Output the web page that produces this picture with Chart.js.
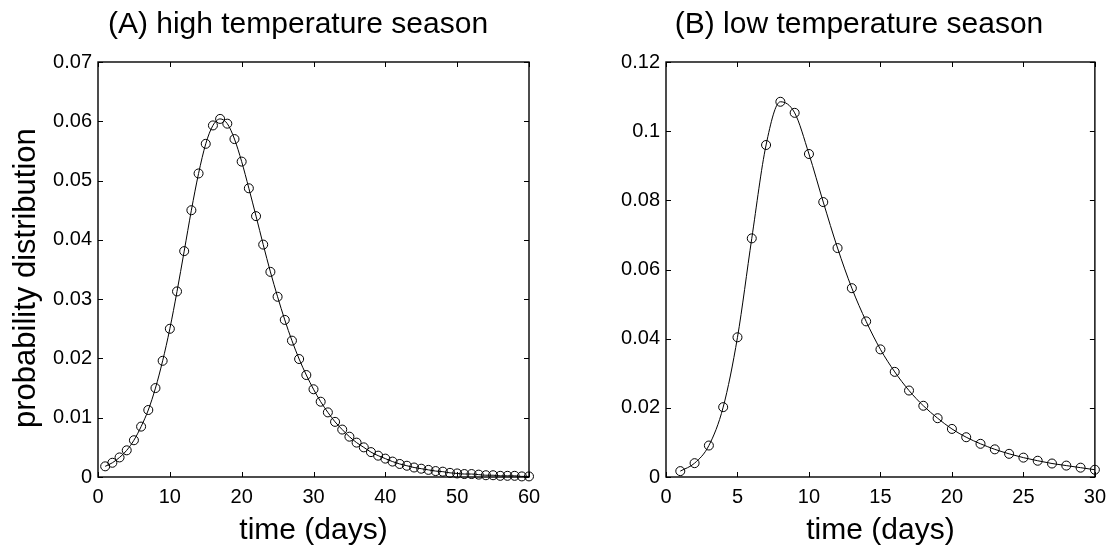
<!DOCTYPE html>
<html>
<head>
<meta charset="utf-8">
<script src="https://cdn.jsdelivr.net/npm/chart.js@4.4.0/dist/chart.umd.min.js"></script>
<style>
  html, body { margin: 0; padding: 0; background: #fff; }
  .panel { position: absolute; top: 0; width: 557px; height: 550px; }
  #panelA { left: 0; }
  #panelB { left: 557px; }
</style>
</head>
<body>
<div class="panel" id="panelA"><canvas id="chartA"></canvas></div>
<div class="panel" id="panelB"><canvas id="chartB"></canvas></div>
<script>
// ---- data: (A) high temperature season ----
const daysA = [1,2,3,4,5,6,7,8,9,10,11,12,13,14,15,16,17,18,19,20,
  21,22,23,24,25,26,27,28,29,30,31,32,33,34,35,36,37,38,39,40,
  41,42,43,44,45,46,47,48,49,50,51,52,53,54,55,56,57,58,59,60];
const probA = [0.0018,0.0024,0.0033,0.0045,0.0062,0.0085,0.0113,0.0150,0.0196,0.0250,
  0.0313,0.0381,0.0450,0.0512,0.0562,0.0593,0.0604,0.0596,0.0570,0.0532,
  0.0487,0.0440,0.0392,0.0346,0.0304,0.0265,0.0230,0.0199,0.0172,0.0148,
  0.0127,0.0109,0.0093,0.0080,0.0068,0.0058,0.0050,0.0042,0.0036,0.0031,
  0.0026,0.0022,0.0019,0.0016,0.0014,0.0012,0.0010,0.0009,0.0007,0.0006,
  0.0005,0.0005,0.0004,0.0003,0.0003,0.0002,0.0002,0.0002,0.0001,0.0001];
const xTicksA = [0,10,20,30,40,50,60];
const yTicksA = [0,0.01,0.02,0.03,0.04,0.05,0.06,0.07];
const yLabelsA = ['0','0.01','0.02','0.03','0.04','0.05','0.06','0.07'];

// ---- data: (B) low temperature season ----
const daysB = [1,2,3,4,5,6,7,8,9,10,11,12,13,14,15,16,17,18,19,20,
  21,22,23,24,25,26,27,28,29,30];
const probB = [0.0017,0.0040,0.0091,0.0202,0.0404,0.0690,0.0960,0.1085,0.1053,0.0934,
  0.0795,0.0662,0.0546,0.0450,0.0369,0.0304,0.0250,0.0206,0.0170,0.0139,
  0.0115,0.0096,0.0080,0.0067,0.0056,0.0047,0.0039,0.0033,0.0027,0.0021];
const xTicksB = [0,5,10,15,20,25,30];
const yTicksB = [0,0.02,0.04,0.06,0.08,0.1,0.12];
const yLabelsB = ['0','0.02','0.04','0.06','0.08','0.1','0.12'];

const FONT = '"Liberation Sans", Arial, Helvetica, sans-serif';
Chart.defaults.font.family = FONT;
Chart.defaults.color = '#000';

// box around plot + inward ticks on all four sides (matlab style)
const boxTicks = {
  id: 'boxTicks',
  beforeDatasetsDraw(chart) {
    const { ctx, chartArea: a, scales: { x, y } } = chart;
    const len = 5;
    ctx.save();
    ctx.strokeStyle = '#000';
    ctx.lineWidth = 1;
    ctx.beginPath();
    x.ticks.forEach(t => {
      const px = Math.round(x.getPixelForValue(t.value)) + 0.5;
      ctx.moveTo(px, a.bottom); ctx.lineTo(px, a.bottom - len);
      ctx.moveTo(px, a.top); ctx.lineTo(px, a.top + len);
    });
    y.ticks.forEach(t => {
      const py = Math.round(y.getPixelForValue(t.value)) + 0.5;
      ctx.moveTo(a.left, py); ctx.lineTo(a.left + len, py);
      ctx.moveTo(a.right, py); ctx.lineTo(a.right - len, py);
    });
    ctx.stroke();
    ctx.lineWidth = 1.4;
    ctx.strokeRect(a.left, a.top, a.right - a.left, a.bottom - a.top);
    ctx.restore();
  }
};

// panel title, sits a bit left of the plot centre like the original
const panelTitle = {
  id: 'panelTitle',
  afterDraw(chart, args, opts) {
    const ctx = chart.ctx;
    ctx.save();
    ctx.font = '30px ' + FONT;
    ctx.fillStyle = '#000';
    ctx.textAlign = 'center';
    ctx.textBaseline = 'middle';
    ctx.fillText(opts.text, opts.x, opts.y);
    ctx.restore();
  }
};

function makeChart(id, cfg) {
  const points = cfg.days.map((d, i) => ({ x: d, y: cfg.values[i] }));
  return new Chart(document.getElementById(id), {
    type: 'line',
    data: {
      datasets: [{
        data: points,
        borderColor: '#000',
        borderWidth: 1,
        cubicInterpolationMode: 'monotone',
        pointRadius: 4.5,
        pointBorderWidth: 1,
        pointBorderColor: '#000',
        pointBackgroundColor: 'rgba(0,0,0,0)',
        clip: false
      }]
    },
    options: {
      responsive: true,
      maintainAspectRatio: false,
      animation: false,
      layout: { padding: { left: 0, right: cfg.padRight, top: 62, bottom: 0 } },
      plugins: {
        legend: { display: false },
        tooltip: { enabled: false },
        title: { display: false },
        panelTitle: { text: cfg.title, x: cfg.titleX, y: 25 }
      },
      scales: {
        x: {
          type: 'linear',
          min: cfg.xTicks[0],
          max: cfg.xTicks[cfg.xTicks.length - 1],
          grid: { display: false, drawTicks: false },
          border: { display: false },
          afterBuildTicks: s => { s.ticks = cfg.xTicks.map(v => ({ value: v })); },
          afterFit: s => { s.height = 73; },
          ticks: {
            autoSkip: false, maxRotation: 0, padding: 8,
            font: { size: 20 },
            callback: v => String(v)
          },
          title: {
            display: true,
            text: 'time (days)',
            font: { size: 30 },
            padding: { top: 0, bottom: 1 }
          }
        },
        y: {
          min: cfg.yTicks[0],
          max: cfg.yTicks[cfg.yTicks.length - 1],
          grid: { display: false, drawTicks: false },
          border: { display: false },
          afterBuildTicks: s => { s.ticks = cfg.yTicks.map(v => ({ value: v })); },
          afterFit: s => { s.width = cfg.yWidth; },
          ticks: {
            autoSkip: false, padding: 6,
            font: { size: 20 },
            callback: (v, i) => cfg.yLabels[i]
          },
          title: {
            display: cfg.yTitle !== '',
            text: cfg.yTitle,
            font: { size: 31 },
            padding: { top: 8, bottom: 0 }
          }
        }
      }
    },
    plugins: [boxTicks, panelTitle]
  });
}

makeChart('chartA', {
  title: '(A) high temperature season',
  titleX: 298,
  days: daysA, values: probA,
  xTicks: xTicksA, yTicks: yTicksA, yLabels: yLabelsA,
  yTitle: 'probability distribution  ',
  yWidth: 98, padRight: 28
});

makeChart('chartB', {
  title: '(B) low temperature season',
  titleX: 302,
  days: daysB, values: probB,
  xTicks: xTicksB, yTicks: yTicksB, yLabels: yLabelsB,
  yTitle: '',
  yWidth: 109, padRight: 18
});
</script>
</body>
</html>
